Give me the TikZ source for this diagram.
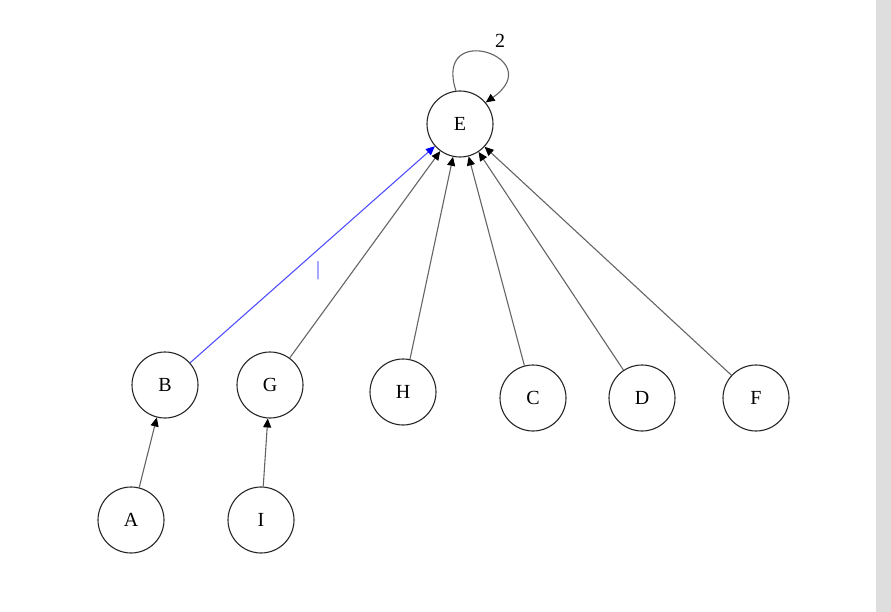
\documentclass[tikz,border=0pt]{standalone}
\usepackage{fontspec}
\setmainfont{Liberation Serif}
\usetikzlibrary{arrows.meta,positioning}
\definecolor{edgegray}{RGB}{100,100,100}
\definecolor{selblue}{RGB}{80,80,255}
\definecolor{panelgray}{RGB}{222,222,222}
\tikzset{
    vertex/.style={circle,draw=black!85,line width=1.1pt,minimum size=66pt,inner sep=0pt,font=\fontsize{20}{20}\selectfont},
    edge/.style={draw=edgegray,line width=1.1pt,-{Triangle[length=9pt,width=8pt,color=black]}},
    seledge/.style={edge,draw=selblue,-{Triangle[length=9pt,width=8pt,color=blue]}}
}
\begin{document}
\begin{tikzpicture}[x=1pt,y=-1pt]
    \useasboundingbox (0,0) rectangle (891,612);
    \fill[panelgray] (876,0) rectangle (891,612);
    % nodes
    \node[vertex] (E) at (460,124) {E};
    \node[vertex] (B) at (165,385) {B};
    \node[vertex] (G) at (270,385) {G};
    \node[vertex] (H) at (403,392) {H};
    \node[vertex] (C) at (533,398) {C};
    \node[vertex] (D) at (642,398) {D};
    \node[vertex] (F) at (756,398) {F};
    \node[vertex] (A) at (131,520) {A};
    \node[vertex] (I) at (261,520) {I};
    % edges
    \draw[seledge] (B) -- (E);
    \draw[edge] (G) -- (E);
    \draw[edge] (H) -- (E);
    \draw[edge] (C) -- (E);
    \draw[edge] (D) -- (E);
    \draw[edge] (F) -- (E);
    \draw[edge] (A) -- (B);
    \draw[edge] (I) -- (G);
    \draw[edge] (E.97) .. controls +(-108:75) and +(-35:78) .. (E.40);
    \node[font=\fontsize{20}{20}\selectfont] (loopw) at (500,41) {2}; %label
    \node[text=selblue,font=\fontsize{20}{20}\selectfont] (caret) at (318,271) {|}; %label
\end{tikzpicture}
\end{document}
